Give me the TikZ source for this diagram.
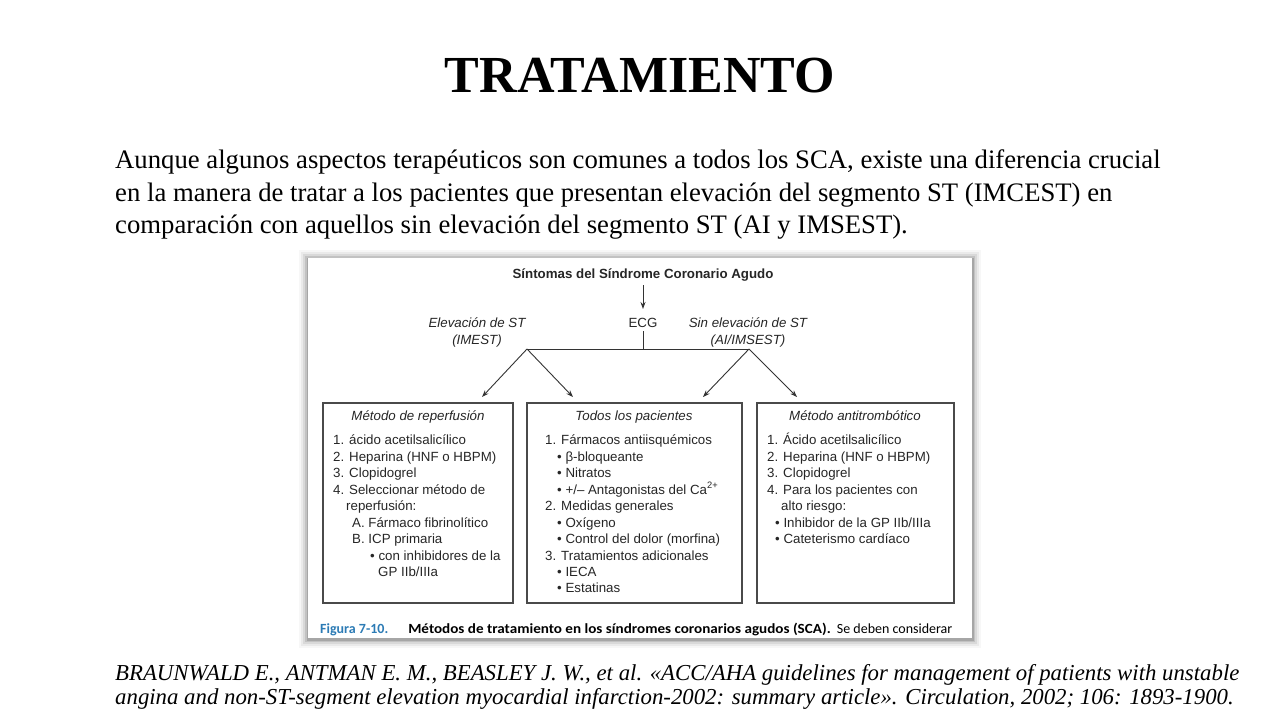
\documentclass[tikz,border=0pt]{standalone}
\usepackage{fontspec}
\setmainfont{Liberation Serif}
\newfontfamily\figsans{Liberation Sans}
\newfontfamily\capsans{Carlito}
\usetikzlibrary{arrows.meta}
\definecolor{capblue}{HTML}{2C7BB5}
\definecolor{boxline}{HTML}{4A4A4A}
\newcommand{\figfont}{\figsans\fontsize{13.3}{15}\selectfont}
\tikzset{
  figtxt/.style={font=\figfont, inner sep=0pt, anchor=base west, text=black!85},
  figtxtc/.style={font=\figfont, inner sep=0pt, anchor=base, text=black!85},
  figital/.style={figtxtc, font=\figfont\itshape},
  listbox/.style={draw=boxline, line width=1.1pt},
  conn/.style={draw=black!80, line width=0.9pt},
  arr/.style={conn, -{Stealth[length=7pt,width=5pt]}},
  bodytxt/.style={font=\fontsize{26.7}{32}\selectfont, inner sep=0pt, anchor=base west},
  reftxt/.style={font=\itshape\fontsize{22.8}{26}\selectfont, inner sep=0pt, anchor=base west},
}
\begin{document}
\begin{tikzpicture}[x=1pt,y=-1pt]
\useasboundingbox[fill=white] (0,0) rectangle (1280,720);
% title
\node[font=\bfseries\fontsize{52}{60}\selectfont, inner sep=0pt, anchor=base] (title) at (640,92) {TRATAMIENTO};
% body
\node[bodytxt] (b1) at (115,168) {Aunque algunos aspectos terapéuticos son comunes a todos los SCA, existe una diferencia crucial};
\node[bodytxt] (b2) at (115,201) {en la manera de tratar a los pacientes que presentan elevación del segmento ST (IMCEST) en};
\node[bodytxt] (b3) at (115,233) {comparación con aquellos sin elevación del segmento ST (AI y IMSEST).};
% figure shadow
\foreach \d/\o in {9/0.03,7/0.05,5/0.07,3/0.10,1.5/0.14}{
  \fill[black, opacity=\o] (308-\d,258-\d+1) rectangle (972+\d,638+\d+1);
}
\fill[white] (308,258) rectangle (972,638);
% figure content
\node[figtxtc, font=\figfont\bfseries] (sint) at (643,278) {Síntomas del Síndrome Coronario Agudo};
\node[figtxtc] (ecg) at (643,327) {ECG};
\node[figital] (elev) at (477,327) {Elevación de ST};
\node[figital] (elev2) at (477,344) {(IMEST)};
\node[figital] (sinel) at (748,327) {Sin elevación de ST};
\node[figital] (sinel2) at (748,344) {(AI/IMSEST)};
\coordinate (jl) at (527,349);
\coordinate (jc) at (643,349);
\coordinate (jr) at (749,349);
\coordinate (aL1) at (482,397);
\coordinate (aL2) at (573,397);
\coordinate (aR1) at (703,397);
\coordinate (aR2) at (797,397);
\draw[arr] (sint.south) ++(0,4) -- (643,309);
\draw[conn] (ecg.south) ++(0,4) -- (jc);
\draw[conn] (jl) -- (jr);
% boxes
\draw[listbox] (323,403) rectangle (513,603);
\draw[listbox] (527,403) rectangle (742,603);
\draw[listbox] (757,403) rectangle (954,603);
\draw[arr] (jl) -- (aL1);
\draw[arr] (jl) -- (aL2);
\draw[arr] (jr) -- (aR1);
\draw[arr] (jr) -- (aR2);
% left box
\node[figital] (tL) at (418,420) {Método de reperfusión};
\node[figtxt] (l1) at (333,444) {1. ácido acetilsalicílico};
\node[figtxt] (l2) at (333,461) {2. Heparina (HNF o HBPM)};
\node[figtxt] (l3) at (333,477) {3. Clopidogrel};
\node[figtxt] (l4) at (333,494) {4. Seleccionar método de};
\node[figtxt] (l5) at (346,510) {reperfusión:};
\node[figtxt] (l6) at (352,527) {A. Fármaco fibrinolítico};
\node[figtxt] (l7) at (352,543) {B. ICP primaria};
\node[figtxt] (l8) at (370,560) {• con inhibidores de la};
\node[figtxt] (l9) at (378,576) {GP IIb/IIIa};
% middle box
\node[figital] (tM) at (634,420) {Todos los pacientes};
\node[figtxt] (m1) at (545,444) {1. Fármacos antiisquémicos};
\node[figtxt] (m2) at (557,461) {• β-bloqueante};
\node[figtxt] (m3) at (557,477) {• Nitratos};
\node[figtxt] (m4) at (557,494) {• +/– Antagonistas del Ca\textsuperscript{2+}};
\node[figtxt] (m5) at (545,510) {2. Medidas generales};
\node[figtxt] (m6) at (557,527) {• Oxígeno};
\node[figtxt] (m7) at (557,543) {• Control del dolor (morfina)};
\node[figtxt] (m8) at (545,560) {3. Tratamientos adicionales};
\node[figtxt] (m9) at (557,576) {• IECA};
\node[figtxt] (m10) at (557,592) {• Estatinas};
% right box
\node[figital] (tR) at (855,420) {Método antitrombótico};
\node[figtxt] (r1) at (767,444) {1. Ácido acetilsalicílico};
\node[figtxt] (r2) at (767,461) {2. Heparina (HNF o HBPM)};
\node[figtxt] (r3) at (767,477) {3. Clopidogrel};
\node[figtxt] (r4) at (767,494) {4. Para los pacientes con};
\node[figtxt] (r5) at (781,510) {alto riesgo:};
\node[figtxt] (r6) at (775,527) {• Inhibidor de la GP IIb/IIIa};
\node[figtxt] (r7) at (775,543) {• Cateterismo cardíaco};
% caption
\node[inner sep=0pt, anchor=base west, font=\capsans\fontsize{14}{16}\selectfont] (cap) at (320,633)
  {\textcolor{capblue}{\bfseries Figura 7-10.}\hspace{20pt}\scalebox{1.08}[1]{\bfseries Métodos de tratamiento en los síndromes coronarios agudos (SCA).}\hspace{3pt} Se deben considerar};
% reference
\node[reftxt] (ref1) at (115,680) {BRAUNWALD E., ANTMAN E. M., BEASLEY J. W., et al. «ACC/AHA guidelines for management of patients with unstable};
\node[reftxt] (ref2) at (115,704) {angina and non-ST-segment elevation myocardial infarction-2002: summary article». Circulation, 2002; 106: 1893-1900.};
\end{tikzpicture}
\end{document}
